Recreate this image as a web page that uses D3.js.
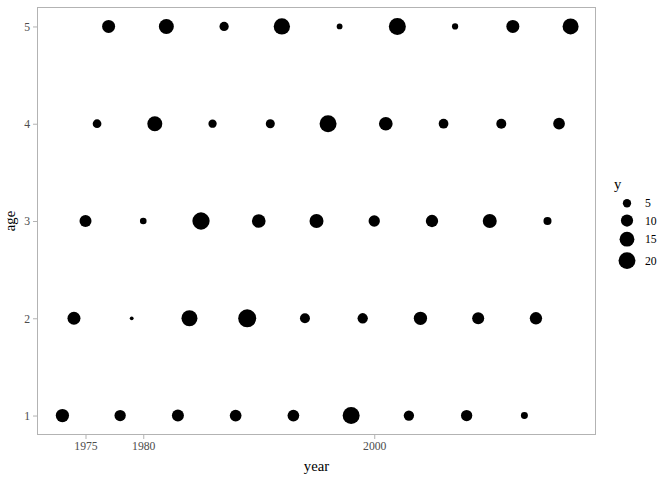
<!DOCTYPE html>
<html>
<head>
<meta charset="utf-8">
<script src="https://cdn.jsdelivr.net/npm/d3@7"></script>
<style>
  html, body { margin: 0; padding: 0; background: #ffffff; }
  svg { display: block; }
</style>
</head>
<body>
<svg id="chart" width="672" height="480"></svg>
<script>
// ---- data ----
const ages = [1, 2, 3, 4, 5];
const years1 = [1973, 1978, 1983, 1988, 1993, 1998, 2003, 2008, 2013];
const y1 = [11.9, 8.6, 9.7, 9.2, 9.2, 20.2, 7.2, 8.6, 4.0];
const years2 = [1974, 1979, 1984, 1989, 1994, 1999, 2004, 2009, 2014];
const y2 = [11.4, 3.0, 17.7, 23.0, 6.8, 7.2, 11.9, 9.7, 10.2];
const years3 = [1975, 1980, 1985, 1990, 1995, 2000, 2005, 2010, 2015];
const y3 = [9.7, 3.8, 21.0, 12.7, 13.3, 8.6, 10.2, 13.3, 4.8];
const years4 = [1976, 1981, 1986, 1991, 1996, 2001, 2006, 2011, 2016];
const y4 = [5.4, 15.4, 5.0, 5.7, 20.2, 12.7, 6.5, 6.8, 9.2];
const years5 = [1977, 1982, 1987, 1992, 1997, 2002, 2007, 2012, 2017];
const y5 = [11.4, 15.4, 6.0, 18.5, 3.4, 20.2, 3.6, 11.4, 17.7];
const xTicks = [1975, 1980, 2000];
const yTicks = [1, 2, 3, 4, 5];
const sizeBreaks = [5, 10, 15, 20];

const yearsByAge = [years1, years2, years3, years4, years5];
const valsByAge = [y1, y2, y3, y4, y5];
const data = [];
ages.forEach((a, i) => {
  yearsByAge[i].forEach((yr, j) => data.push({ age: a, year: yr, y: valsByAge[i][j] }));
});

// ---- layout ----
const svg = d3.select("#chart");
const panel = { left: 37, right: 596, top: 7, bottom: 435 };
const font = "'Liberation Serif', 'Times New Roman', serif";
const gray = "#b3b3b3";
const tickText = "#4d4d4d";

function expand(ext, f) { const d = (ext[1] - ext[0]) * f; return [ext[0] - d, ext[1] + d]; }

const x = d3.scaleLinear()
  .domain(expand(d3.extent(data, d => d.year), 0.05))
  .range([panel.left, panel.right]);
const yS = d3.scaleLinear()
  .domain(expand(d3.extent(data, d => d.age), 0.05))
  .range([panel.bottom, panel.top]);

// size scale (area based like ggplot's scale_size)
const yExt = d3.extent(data, d => d.y);
const rescale = d3.scaleLinear().domain(yExt).range([0, 1]).clamp(true);
const sizeMM = d3.scaleSqrt().domain([0, 1]).range([1, 6]);
const diam = v => sizeMM(rescale(v)) * 2.845 + 0.945;

// panel border
svg.append("rect")
  .attr("x", panel.left + 0.5).attr("y", panel.top + 0.5)
  .attr("width", panel.right - panel.left - 1).attr("height", panel.bottom - panel.top - 1)
  .attr("fill", "none").attr("stroke", gray).attr("stroke-width", 1);

// axes
const xAxis = d3.axisBottom(x).tickValues(xTicks).tickFormat(d3.format("d")).tickSize(4).tickPadding(3);
const gx = svg.append("g").attr("transform", `translate(0,${panel.bottom})`).call(xAxis);
gx.select(".domain").remove();
gx.selectAll("line").attr("stroke", gray);
gx.selectAll("text").attr("fill", tickText).style("font-family", font).style("font-size", "11.7px");

const yAxis = d3.axisLeft(yS).tickValues(yTicks).tickFormat(d3.format("d")).tickSize(4).tickPadding(3);
const gy = svg.append("g").attr("transform", `translate(${panel.left},0)`).call(yAxis);
gy.select(".domain").remove();
gy.selectAll("line").attr("stroke", gray);
gy.selectAll("text").attr("fill", tickText).style("font-family", font).style("font-size", "11.7px");

// points
svg.append("g").selectAll("circle").data(data).join("circle")
  .attr("cx", d => x(d.year))
  .attr("cy", d => yS(d.age))
  .attr("r", d => diam(d.y) / 2)
  .attr("fill", "#000");

// axis titles
svg.append("text").attr("x", (panel.left + panel.right) / 2).attr("y", 471)
  .attr("text-anchor", "middle").style("font-family", font).style("font-size", "14.7px")
  .attr("fill", "#000").text("year");
svg.append("text").attr("transform", `translate(15,${(panel.top + panel.bottom) / 2}) rotate(-90)`)
  .attr("text-anchor", "middle").style("font-family", font).style("font-size", "14.7px")
  .attr("fill", "#000").text("age");

// legend
const lg = svg.append("g");
lg.append("text").attr("x", 614).attr("y", 189).style("font-family", font).style("font-size", "14.7px")
  .attr("fill", "#000").text("y");
let keyTop = 194.6;
sizeBreaks.forEach(b => {
  const d = diam(b);
  const h = Math.max(17.3, d * 1.35);
  const cy = keyTop + h / 2;
  lg.append("circle").attr("cx", 627).attr("cy", cy).attr("r", d / 2).attr("fill", "#000");
  lg.append("text").attr("x", 645).attr("y", cy).attr("dy", "0.35em")
    .style("font-family", font).style("font-size", "11.7px").attr("fill", "#000").text(b);
  keyTop += h;
});
</script>
</body>
</html>
